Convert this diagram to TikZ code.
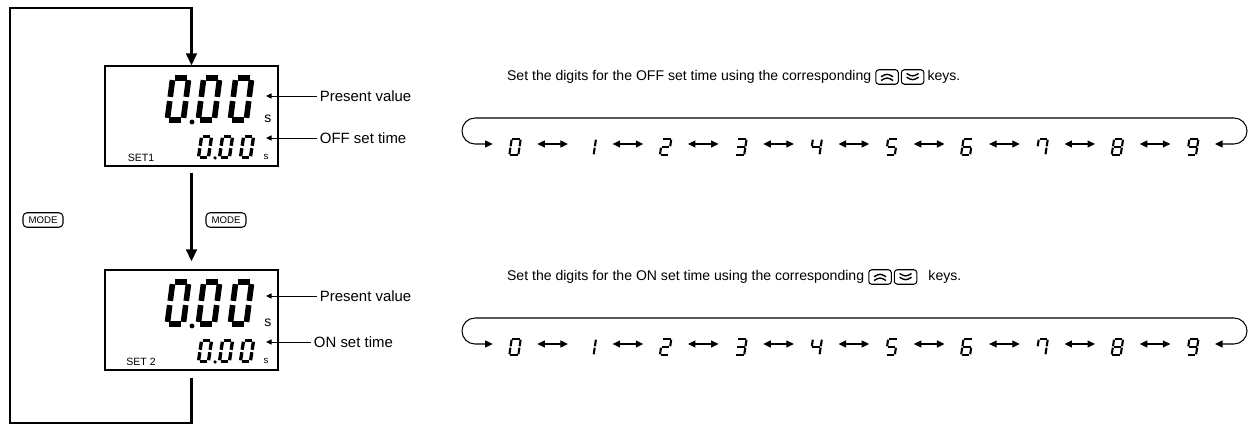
\documentclass[tikz,border=0pt]{standalone}
\usepackage{fontspec}
\setmainfont{Liberation Sans}
\usetikzlibrary{arrows.meta,calc,positioning}

% seven segment digit, segments given as a list of a..g
\tikzset{
  pics/segdigit/.style={code={
    \coordinate (a1) at (-1,-1); \coordinate (a2) at (1,-1);
    \coordinate (b1) at (1,-1);  \coordinate (b2) at (1,0);
    \coordinate (c1) at (1,0);   \coordinate (c2) at (1,1);
    \coordinate (d1) at (-1,1);  \coordinate (d2) at (1,1);
    \coordinate (e1) at (-1,0);  \coordinate (e2) at (-1,1);
    \coordinate (f1) at (-1,-1); \coordinate (f2) at (-1,0);
    \coordinate (g1) at (-1,0);  \coordinate (g2) at (1,0);
    \edef\seglist{#1}
    \foreach \s in \seglist {\draw[segline] (\s1) -- (\s2);}
  }}
}

\begin{document}
\begin{tikzpicture}[x=0.02cm,y=-0.02cm,
    flow/.style={line width=1.5pt,-{Triangle[length=2.4mm,width=2.1mm]}},
    lcd/.style={draw,line width=0.6pt,minimum width=3.46cm,minimum height=2cm,inner sep=0pt},
    lbl/.style={font=\fontsize{8.5}{10}\selectfont,anchor=west,inner sep=1.5pt},
    ptr/.style={line width=0.5pt,-{Triangle[length=1.1mm,width=1mm]}},
    modekey/.style={draw,rounded corners=0.8mm,line width=0.6pt,minimum width=0.8cm,minimum height=0.29cm,inner sep=0pt,font=\fontsize{5.5}{5.5}\selectfont},
    txt/.style={font=\fontsize{8}{9.6}\selectfont,inner sep=1pt},
    key/.style={draw,rounded corners=0.6mm,line width=0.6pt,minimum width=0.45cm,minimum height=0.29cm,inner sep=0pt},
    upkey/.style={key,path picture={
        \draw[line width=0.8pt] ($(path picture bounding box.center)+(-0.12cm,-0.07cm)$) -- ++(0.12cm,0.065cm) -- ++(0.12cm,-0.065cm);
        \draw[line width=0.8pt] ($(path picture bounding box.center)+(-0.12cm,0.005cm)$) -- ++(0.12cm,0.065cm) -- ++(0.12cm,-0.065cm);}},
    dnkey/.style={key,path picture={
        \draw[line width=0.8pt] ($(path picture bounding box.center)+(-0.12cm,0.07cm)$) -- ++(0.12cm,-0.065cm) -- ++(0.12cm,0.065cm);
        \draw[line width=0.8pt] ($(path picture bounding box.center)+(-0.12cm,-0.005cm)$) -- ++(0.12cm,-0.065cm) -- ++(0.12cm,0.065cm);}},
    cell/.style={minimum width=0.88cm,minimum height=0.32cm,inner sep=0pt},
    swap/.style={line width=0.6pt,{Triangle[length=1.5mm,width=1.4mm]}-{Triangle[length=1.5mm,width=1.4mm]}},
    segline/.style={line width=1.2pt,shorten <=0.4pt,shorten >=0.4pt},
    bigseg/.style={segline/.style={line width=3.2pt,shorten <=1.2pt,shorten >=1.2pt},xslant=0.13,xscale=8,yscale=21},
    smallseg/.style={segline/.style={line width=1.9pt,shorten <=0.7pt,shorten >=0.7pt},xslant=0.15,xscale=5,yscale=10.5},
    rowseg/.style={xslant=0.15,xscale=4.5,yscale=8}
  ]
  \useasboundingbox (0,0) rectangle (1251,431);

  % the two displays
  \foreach \n/\dy/\set in {1/0/SET1,2/204/SET 2}{
    \begin{scope}[shift={(0,\dy)}]
      \node[lcd] (lcd\n) at (191.5,116) {};
      \foreach \xx in {178,209,241}
        \pic[bigseg] at (\xx,99) {segdigit={a,b,c,d,e,f}};
      \fill (192,122) circle (1.4pt);
      \node[font=\fontsize{8}{8}\selectfont,inner sep=0pt] (bigs\n) at (268,119) {s};
      \foreach \xx in {205,226,247}
        \pic[smallseg] at (\xx,147) {segdigit={a,b,c,d,e,f}};
      \fill (215,158) circle (1pt);
      \node[font=\fontsize{5.5}{5.5}\selectfont,inner sep=0pt] (smalls\n) at (266,157) {s};
      \node[font=\fontsize{6}{6}\selectfont,inner sep=0pt] (set\n) at (141,158) {\set};
    \end{scope}
  }

  \node[lbl] (pv1) at (317,96) {Present value};
  \node[lbl] (offlbl) at (317,138) {OFF set time};
  \node[lbl] (pv2) at (317,296) {Present value};
  \node[lbl] (onlbl) at (311,342) {ON set time};
  \coordinate (pv1tip) at (266,96);
  \coordinate (offtip) at (266,138);
  \coordinate (pv2tip) at (266,296);
  \coordinate (ontip) at (266,342);
  \draw[ptr] (pv1) -- (pv1tip);
  \draw[ptr] (offlbl) -- (offtip);
  \draw[ptr] (pv2) -- (pv2tip);
  \draw[ptr] (onlbl) -- (ontip);

  \node[modekey] (mode1) at (43,220) {MODE};
  \node[modekey] (mode2) at (226,220) {MODE};

  % mode loop
  \coordinate (loopbl) at (10,423);
  \coordinate (looptl) at (10,8);
  \draw[flow] ($(lcd2.south)+(0,7)$) |- (loopbl) -- (looptl) -| (lcd1.north);
  \draw[flow] ($(lcd1.south)+(0,6)$) -- ($(lcd2.north)+(0,-8)$);

  % digit setting rows
  \node[txt,anchor=west] (offtxt) at (505,77) {Set the digits for the OFF set time using the corresponding};
  \node[upkey,right=0.4mm of offtxt] (offup) {};
  \node[dnkey,right=0.4mm of offup] (offdn) {};
  \node[txt,right=0.2mm of offdn] (offkeys) {keys.};

  \node[txt,anchor=west] (ontxt) at (505,277) {Set the digits for the ON set time using the corresponding};
  \node[upkey,right=0.4mm of ontxt] (onup) {};
  \node[dnkey,right=0.4mm of onup] (ondn) {};
  \node[txt,right=1.8mm of ondn] (onkeys) {keys.};

  \foreach \r/\dy in {off/0,on/200}{
    \foreach \d/\segs in {0/{a,b,c,d,e,f},1/{b,c},2/{a,b,g,e,d},3/{a,b,g,c,d},4/{f,g,b,c},
        5/{a,f,g,c,d},6/{a,f,g,e,c,d},7/{f,a,b,c},8/{a,b,c,d,e,f,g},9/{a,b,c,d,f,g}}{
      \node[cell] (\r\d) at ({515+75.3*\d},{144+\dy}) {};
      \pic[rowseg] at ($(\r\d)+(0,3)$) {segdigit=\segs};
    }
    \foreach \i [evaluate=\i as \j using int(\i+1)] in {0,...,8}
      \draw[swap] (\r\i) -- (\r\j);
    \coordinate (\r R) at (1247,{118+\dy});
    \coordinate (\r L) at (462,{118+\dy});
    \draw[swap,rounded corners=0.26cm] (\r9) -| (\r R) -- (\r L) |- (\r0);
  }
\end{tikzpicture}
\end{document}
